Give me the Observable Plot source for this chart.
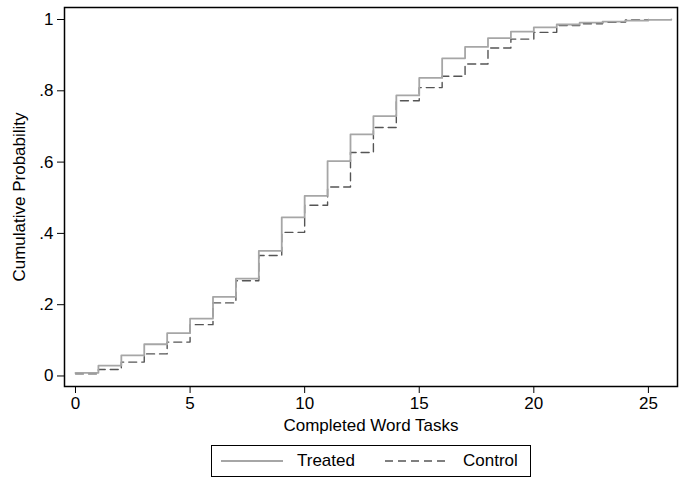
<!DOCTYPE html>
<html>
<head>
<meta charset="utf-8">
<script src="https://cdn.jsdelivr.net/npm/d3@7"></script>
<script src="https://cdn.jsdelivr.net/npm/@observablehq/plot@0.6"></script>
<style>
  body { margin: 0; background: #fff; font-family: "Liberation Sans", Arial, Helvetica, sans-serif; }
  #chart { width: 692px; }
  #chart > svg { display: block; }
  #legendbox { margin-left: 211px; margin-top: 5px; width: 320px; height: 32px; box-sizing: border-box;
    border: 1px solid #000; display: flex; align-items: center; font-size: 17px; color: #000; }
  #legendbox svg { display: block; flex: none; }
</style>
</head>
<body>
<div id="chart"></div>
<script>
const tasks = d3.range(0, 27);
const treated = [0.009, 0.029, 0.058, 0.089, 0.120, 0.161, 0.222, 0.273, 0.351, 0.445,
  0.505, 0.603, 0.678, 0.729, 0.787, 0.836, 0.891, 0.923, 0.948, 0.966,
  0.978, 0.986, 0.991, 0.994, 0.997, 0.999, 1.000];
const control = [0.006, 0.018, 0.039, 0.062, 0.095, 0.144, 0.205, 0.267, 0.338, 0.403,
  0.479, 0.530, 0.627, 0.697, 0.772, 0.809, 0.841, 0.875, 0.920, 0.945,
  0.964, 0.983, 0.988, 0.992, 0.999, 1.000];
const xTicks = [0, 5, 10, 15, 20, 25];
const yTicks = [0, 0.2, 0.4, 0.6, 0.8, 1];
const yTickLabels = ["0", ".2", ".4", ".6", ".8", "1"];
const seriesNames = ["Treated", "Control"];

const tData = treated.map((v, i) => ({x: tasks[i], y: v}));
const cData = control.map((v, i) => ({x: tasks[i], y: v}));

const plot = Plot.plot({
  width: 692,
  height: 440,
  marginLeft: 64,
  marginRight: 15,
  marginTop: 7,
  marginBottom: 54,
  style: {fontFamily: "'Liberation Sans', Arial, Helvetica, sans-serif", fontSize: "17px", color: "#000", background: "#fff"},
  x: {domain: [-0.48, 26.27]},
  y: {domain: [-0.0295, 1.0337]},
  marks: [
    Plot.line(cData, {x: "x", y: "y", curve: "step-after", stroke: "#555", strokeWidth: 1.4, strokeDasharray: "8,5"}),
    Plot.line(tData, {x: "x", y: "y", curve: "step-after", stroke: "#a6a6a6", strokeWidth: 1.8}),
    Plot.frame({stroke: "#000", strokeWidth: 1.5}),
    Plot.axisX({ticks: xTicks, tickSize: 7, tickPadding: 3, fontSize: 17, label: null}),
    Plot.axisY({ticks: yTicks, tickSize: 7, tickPadding: 4, fontSize: 17, label: null,
      tickFormat: d => yTickLabels[yTicks.indexOf(d)]}),
    Plot.axisX({ticks: [], label: "Completed Word Tasks", labelAnchor: "center", labelOffset: 44, labelArrow: "none", fontSize: 17}),
    Plot.axisY({ticks: [], label: "Cumulative Probability", labelAnchor: "center", labelOffset: 52, labelArrow: "none", fontSize: 17})
  ]
});
const chart = document.getElementById("chart");
chart.appendChild(plot);

const legend = document.createElement("div");
legend.id = "legendbox";
legend.innerHTML = `
  <svg width="62" height="10" style="margin-left:9px"><line x1="0" x2="62" y1="5" y2="5" stroke="#a6a6a6" stroke-width="1.8"/></svg>
  <span style="margin-left:14px">${seriesNames[0]}</span>
  <svg width="62" height="10" style="margin-left:30px"><line x1="0" x2="62" y1="5" y2="5" stroke="#555" stroke-width="1.4" stroke-dasharray="8,5"/></svg>
  <span style="margin-left:16px">${seriesNames[1]}</span>`;
chart.appendChild(legend);
</script>
</body>
</html>
